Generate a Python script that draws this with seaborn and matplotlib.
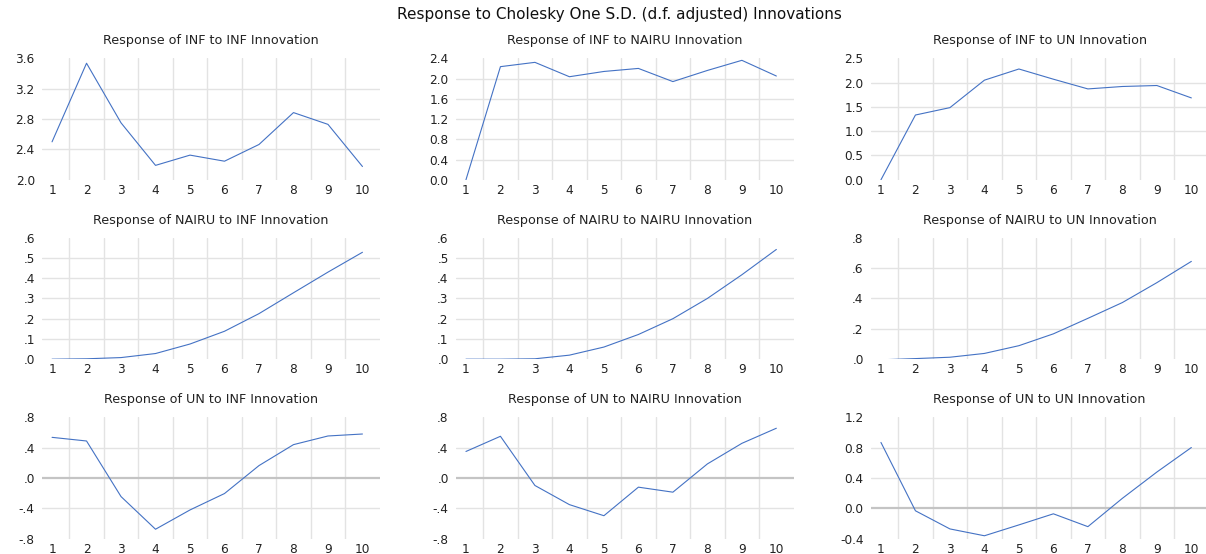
import numpy as np
import pandas as pd
import matplotlib
matplotlib.use("Agg")
import matplotlib.pyplot as plt
import seaborn as sns

# impulse response periods
periods = [1, 2, 3, 4, 5, 6, 7, 8, 9, 10]

# responses (row = responding variable, column = shock)
inf_inf = [2.50, 3.535, 2.75, 2.19, 2.325, 2.245, 2.465, 2.885, 2.73, 2.175]
inf_nairu = [0.0, 2.235, 2.32, 2.036, 2.14, 2.20, 1.94, 2.16, 2.36, 2.05]
inf_un = [0.0, 1.333, 1.485, 2.05, 2.28, 2.07, 1.87, 1.92, 1.94, 1.685]
nairu_inf = [0.0, 0.002, 0.008, 0.028, 0.075, 0.138, 0.225, 0.328, 0.43, 0.528]
nairu_nairu = [0.0, 0.0, 0.002, 0.02, 0.06, 0.122, 0.20, 0.30, 0.417, 0.542]
nairu_un = [-0.004, 0.004, 0.013, 0.038, 0.089, 0.167, 0.269, 0.373, 0.504, 0.644]
un_inf = [0.536, 0.488, -0.244, -0.674, -0.42, -0.204, 0.164, 0.44, 0.554, 0.58]
un_nairu = [0.35, 0.55, -0.098, -0.35, -0.496, -0.12, -0.186, 0.186, 0.457, 0.656]
un_un = [0.869, -0.031, -0.27, -0.36, -0.217, -0.071, -0.24, 0.133, 0.479, 0.802]

titles = [
    "Response of INF to INF Innovation", "Response of INF to NAIRU Innovation", "Response of INF to UN Innovation",
    "Response of NAIRU to INF Innovation", "Response of NAIRU to NAIRU Innovation", "Response of NAIRU to UN Innovation",
    "Response of UN to INF Innovation", "Response of UN to NAIRU Innovation", "Response of UN to UN Innovation",
]
series = [inf_inf, inf_nairu, inf_un, nairu_inf, nairu_nairu, nairu_un, un_inf, un_nairu, un_un]

# y ticks and their labels per panel
yticks = [
    [2.0, 2.4, 2.8, 3.2, 3.6], [0.0, 0.4, 0.8, 1.2, 1.6, 2.0, 2.4], [0.0, 0.5, 1.0, 1.5, 2.0, 2.5],
    [0.0, 0.1, 0.2, 0.3, 0.4, 0.5, 0.6], [0.0, 0.1, 0.2, 0.3, 0.4, 0.5, 0.6], [0.0, 0.2, 0.4, 0.6, 0.8],
    [-0.8, -0.4, 0.0, 0.4, 0.8], [-0.8, -0.4, 0.0, 0.4, 0.8], [-0.4, 0.0, 0.4, 0.8, 1.2],
]
ylabels = [
    ["2.0", "2.4", "2.8", "3.2", "3.6"], ["0.0", "0.4", "0.8", "1.2", "1.6", "2.0", "2.4"],
    ["0.0", "0.5", "1.0", "1.5", "2.0", "2.5"],
    [".0", ".1", ".2", ".3", ".4", ".5", ".6"], [".0", ".1", ".2", ".3", ".4", ".5", ".6"],
    [".0", ".2", ".4", ".6", ".8"],
    ["-.8", "-.4", ".0", ".4", ".8"], ["-.8", "-.4", ".0", ".4", ".8"], ["-0.4", "0.0", "0.4", "0.8", "1.2"],
]
suptitle = "Response to Cholesky One S.D. (d.f. adjusted) Innovations"

sns.set_theme(style="white")
plt.rcParams['font.family'] = ['DejaVu Sans']

W, H = 1206, 554
fig = plt.figure(figsize=(W / 100, H / 100), dpi=100)

col_left = [41.7, 455.6, 870.6]
row_top = [58.3, 237.7, 417.3]
ax_w = 338
ax_h = 121.5

line_color = "#4472C4"
grid_color = "#E3E3E3"

for i in range(9):
    r, c = divmod(i, 3)
    ax = fig.add_axes([col_left[c] / W, 1 - (row_top[r] + ax_h) / H, ax_w / W, ax_h / H])
    df = pd.DataFrame({"period": periods, "resp": series[i]})
    sns.lineplot(data=df, x="period", y="resp", ax=ax, color=line_color, linewidth=0.8)
    ax.set_xlim(0.7, 10.5)
    ax.set_ylim(yticks[i][0], yticks[i][-1])
    ax.set_xticks(periods)
    ax.set_xticklabels([str(p) for p in periods])
    ax.set_xticks(np.arange(1.5, 10, 1.0), minor=True)
    ax.set_yticks(yticks[i])
    ax.set_yticklabels(ylabels[i])
    ax.set_xlabel("")
    ax.set_ylabel("")
    for s in ax.spines.values():
        s.set_visible(False)
    ax.grid(False)
    ax.xaxis.grid(True, which="minor", color=grid_color, linewidth=1.0)
    for yv in yticks[i][1:-1]:
        if yv == 0.0:
            ax.axhline(yv, color="#C4C4C4", linewidth=1.6, zorder=1)
        else:
            ax.axhline(yv, color=grid_color, linewidth=1.0, zorder=1)
    ax.tick_params(axis="both", which="both", length=0, labelsize=8.7, colors="#222222")
    ax.tick_params(axis="y", pad=5)
    ax.tick_params(axis="x", pad=3)
    ax.set_title(titles[i], fontsize=9.2, pad=10, color="#222222")

fig.text(619 / W, 1 - 15 / H, suptitle, ha="center", va="center", fontsize=11, color="#111111")

fig.savefig("out.png", dpi=100)
